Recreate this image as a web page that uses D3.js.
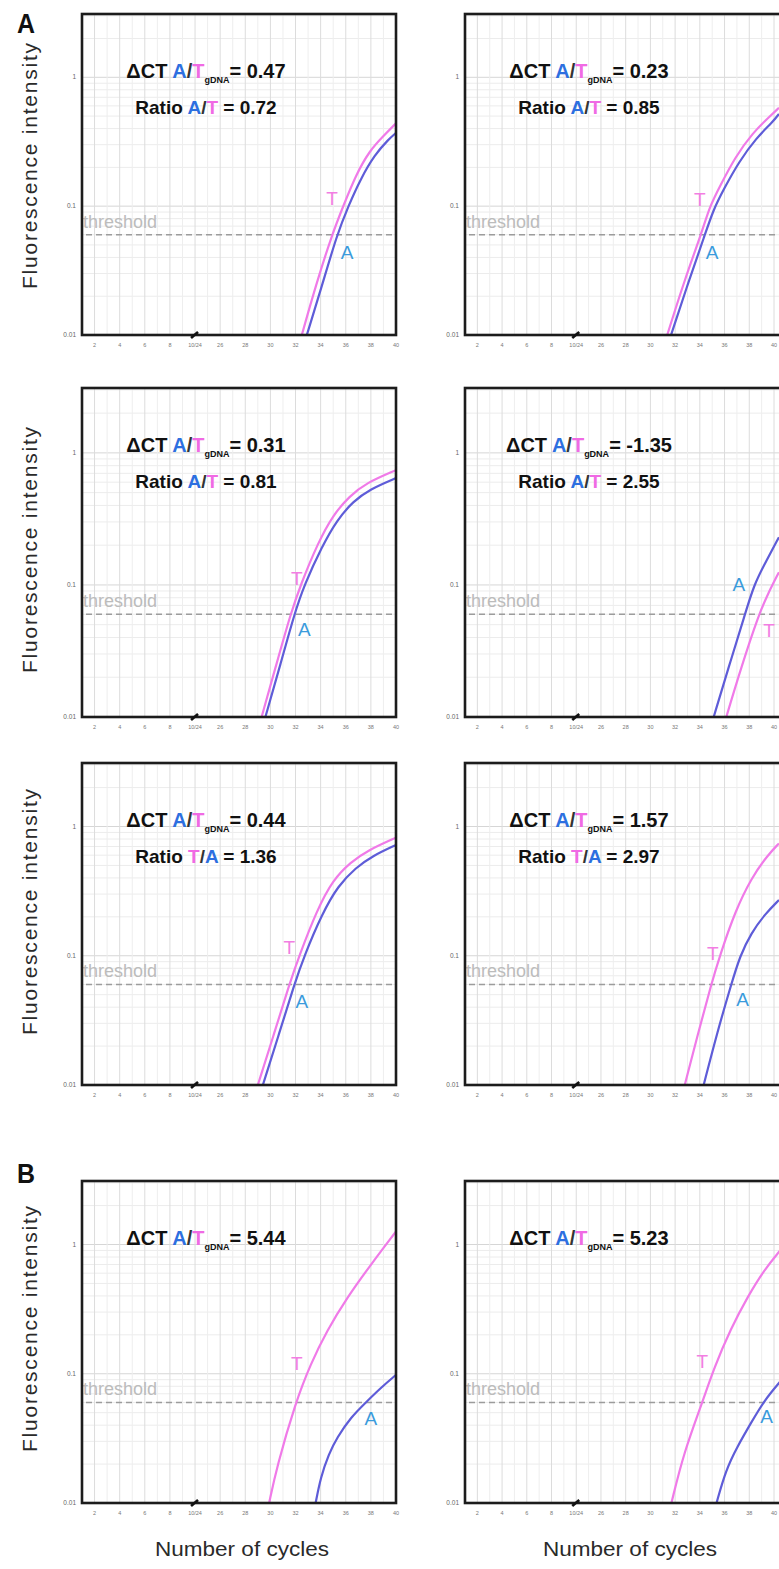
<!DOCTYPE html>
<html><head><meta charset="utf-8">
<script src="https://cdn.jsdelivr.net/npm/d3@7"></script>
<style>body{margin:0;background:#fff}svg{display:block}</style>
</head><body>
<script>
// ---------------- data ----------------
const panelNames = ["A1","A2","A3","A4","A5","A6","B1","B2"];
const deltaCT = ["0.47","0.23","0.31","-1.35","0.44","1.57","5.44","5.23"];
const ratioNumerator = ["A","A","A","A","T","T",null,null];
const ratioValue = ["0.72","0.85","0.81","2.55","1.36","2.97",null,null];
const thresholdValue = 0.06;
const yTickValues = [0.01, 0.1, 1];
const yTickLabels = ["0.01", "0.1", "1"];
const xTickCycles = [2,4,6,8,24,26,28,30,32,34,36,38,40];
const xTickLabels = ["2","4","6","8","10/24","26","28","30","32","34","36","38","40"];

// fluorescence curves: [cycle, intensity]
const tCurves = [
  [[32.5,0.01],[33.6,0.024],[34.9,0.06],[35.8,0.10],[36.8,0.174],[37.9,0.27],[39.0,0.35],[40,0.44]],
  [[31.36,0.01],[32.78,0.027],[34.1,0.06],[34.8,0.1],[35.63,0.143],[36.85,0.24],[38.27,0.37],[39.59,0.49],[40.4,0.58]],
  [[29.3,0.01],[30.5,0.0255],[31.6,0.06],[32.4,0.1],[33.8,0.21],[35.0,0.34],[36.3,0.47],[37.6,0.59],[40,0.74]],
  [[36.14,0.01],[37.36,0.024],[38.78,0.06],[39.49,0.085],[40.4,0.125]],
  [[29.0,0.01],[30.3,0.025],[31.5,0.06],[32.3,0.1],[33.7,0.225],[35.0,0.39],[36.4,0.53],[37.7,0.65],[40,0.82]],
  [[32.78,0.01],[33.9,0.026],[34.92,0.06],[35.62,0.1],[36.85,0.22],[38.17,0.40],[39.49,0.6],[40.4,0.74]],
  [[29.9,0.01],[30.5,0.0189],[32.0,0.06],[33.2,0.119],[34.5,0.215],[36.1,0.388],[38.0,0.70],[40,1.26]],
  [[31.7,0.01],[32.7,0.0245],[34.2,0.06],[35.15,0.111],[36.5,0.223],[37.9,0.40],[39.2,0.635],[40.5,0.90]]
];
const aCurves = [
  [[32.9,0.01],[34.1,0.024],[35.3,0.06],[36.2,0.10],[37.2,0.164],[38.3,0.25],[39.4,0.33],[40,0.37]],
  [[31.67,0.01],[33.09,0.026],[34.41,0.06],[35.12,0.095],[35.93,0.135],[37.15,0.22],[38.58,0.34],[39.9,0.45],[40.4,0.52]],
  [[29.6,0.01],[30.8,0.025],[31.9,0.06],[32.7,0.1],[34.1,0.195],[35.3,0.31],[36.6,0.43],[37.9,0.53],[40,0.645]],
  [[35.12,0.01],[36.34,0.024],[37.66,0.06],[38.37,0.1],[39.39,0.153],[40.4,0.23]],
  [[29.4,0.01],[30.7,0.025],[31.9,0.06],[32.7,0.1],[34.1,0.21],[35.4,0.35],[36.8,0.48],[38.1,0.59],[40,0.72]],
  [[34.31,0.01],[35.43,0.026],[36.54,0.06],[37.25,0.1],[38.16,0.15],[39.27,0.21],[40.4,0.27]],
  [[33.6,0.01],[34.0,0.0158],[34.65,0.024],[35.3,0.032],[36.4,0.046],[37.6,0.06],[38.8,0.078],[40,0.098]],
  [[35.35,0.01],[36.1,0.018],[37.05,0.0275],[38.1,0.041],[39.2,0.062],[40.5,0.087]]
];
// curve label anchors: [cycle, intensity]
const tLabelAt = [[34.9,0.115],[34.0,0.113],[32.1,0.112],[39.6,0.045],[31.5,0.116],[35.05,0.105],[32.1,0.119],[34.2,0.125]];
const aLabelAt = [[36.1,0.044],[35.0,0.044],[32.7,0.046],[37.15,0.10],[32.5,0.044],[37.45,0.046],[38.0,0.045],[39.4,0.047]];

// ---------------- layout ----------------
const W = 779, H = 1569;
const colX = [[82,396],[465,774]];
const boxRightEdge = [396, 786];
const rowY = [[14,335],[388,717],[763,1085],[1181,1503]];
const yLabelCenters = [166,550,912,1329];
const blueTxt = "#2d6fe0", pinkTxt = "#f06ae4";
const curveBlue = "#5e5cd8", curvePink = "#f07ae8";
const FONT = "'Liberation Sans', Arial, sans-serif";

const unit = c => c <= 10 ? c : c - 14;   // broken x axis (10 | 24)

const svg = d3.select("body").append("svg").attr("width", W).attr("height", H);

panelNames.forEach((name, i) => {
  const col = i % 2, row = Math.floor(i / 2);
  const [x0, x1] = colX[col];
  const [y0, y1] = rowY[row];
  const boxRight = boxRightEdge[col];
  const x = d3.scaleLinear().domain([1, 26]).range([x0, x1]);
  const y = d3.scaleLog().domain([0.01, 3.1]).range([y1, y0]);
  const g = svg.append("g");
  const clipId = "clip" + i;
  g.append("clipPath").attr("id", clipId).append("rect")
    .attr("x", x0).attr("y", y0).attr("width", boxRight - x0).attr("height", y1 - y0);

  // grid
  const grid = g.append("g").attr("clip-path", `url(#${clipId})`);
  const hVals = [];
  [0.01, 0.1, 1].forEach(d => { for (let k = 1; k <= 9; k++) { const v = k * d; if (v <= 3.1) hVals.push([v, k === 1]); } });
  grid.selectAll("line.h").data(hVals).join("line")
    .attr("x1", x0).attr("x2", boxRight).attr("y1", d => y(d[0])).attr("y2", d => y(d[0]))
    .attr("stroke", d => d[1] ? "#d6d6d6" : "#ececec").attr("stroke-width", 1);
  const vUnits = d3.range(1, 28);
  grid.selectAll("line.v").data(vUnits).join("line")
    .attr("x1", d => x(d)).attr("x2", d => x(d)).attr("y1", y0).attr("y2", y1)
    .attr("stroke", d => d % 2 === 0 ? "#dcdcdc" : "#eeeeee").attr("stroke-width", 1);

  // threshold
  g.append("line").attr("x1", x0 + 4).attr("x2", boxRight - 2)
    .attr("y1", y(thresholdValue)).attr("y2", y(thresholdValue))
    .attr("stroke", "#9c9c9c").attr("stroke-width", 1.6).attr("stroke-dasharray", "6,4");
  g.append("text").attr("x", x0 + 1).attr("y", y(thresholdValue) - 7)
    .attr("font-family", FONT).attr("font-size", 18).attr("fill", "#bcbcbc").text("threshold");

  // curves
  const line = d3.line().x(d => x(unit(d[0]))).y(d => y(d[1])).curve(d3.curveBasis);
  const cg = g.append("g").attr("clip-path", `url(#${clipId})`);
  cg.append("path").attr("d", line(tCurves[i])).attr("fill", "none")
    .attr("stroke", curvePink).attr("stroke-width", 2.2);
  cg.append("path").attr("d", line(aCurves[i])).attr("fill", "none")
    .attr("stroke", curveBlue).attr("stroke-width", 2.2);

  // curve labels
  g.append("text").attr("x", x(unit(tLabelAt[i][0]))).attr("y", y(tLabelAt[i][1]))
    .attr("text-anchor", "middle").attr("dominant-baseline", "central")
    .attr("font-family", FONT).attr("font-size", 19).attr("fill", "#f27ee2").text("T");
  g.append("text").attr("x", x(unit(aLabelAt[i][0]))).attr("y", y(aLabelAt[i][1]))
    .attr("text-anchor", "middle").attr("dominant-baseline", "central")
    .attr("font-family", FONT).attr("font-size", 19).attr("fill", "#3a9bdc").text("A");

  // box
  g.append("rect").attr("x", x0).attr("y", y0).attr("width", boxRight - x0).attr("height", y1 - y0)
    .attr("fill", "none").attr("stroke", "#1c1c1c").attr("stroke-width", 2.6);

  // y ticks
  g.selectAll("text.yt").data(yTickValues).join("text")
    .attr("x", x0 - 6).attr("y", d => y(d) + 2).attr("text-anchor", "end")
    .attr("font-family", FONT).attr("font-size", 6.5).attr("fill", "#666")
    .text((d, k) => yTickLabels[k]);
  // x ticks
  g.selectAll("text.xt").data(xTickCycles).join("text")
    .attr("x", d => x(unit(d))).attr("y", y1 + 12).attr("text-anchor", "middle")
    .attr("font-family", FONT).attr("font-size", 5.5).attr("fill", "#777")
    .text((d, k) => xTickLabels[k]);
  // axis break mark
  const bx = x(10);
  g.append("path").attr("d", `M${bx - 4},${y1 + 3}L${bx + 3},${y1 - 3}`)
    .attr("stroke", "#111").attr("stroke-width", 2.6);

  // annotation
  const cx = x0 + 124;
  const t1 = g.append("text").attr("x", cx).attr("y", y0 + 64).attr("text-anchor", "middle")
    .attr("font-family", FONT).attr("font-weight", "bold").attr("font-size", 20).attr("fill", "#111");
  t1.append("tspan").text("ΔCT ");
  t1.append("tspan").attr("fill", blueTxt).text("A");
  t1.append("tspan").attr("fill", "#333").text("/");
  t1.append("tspan").attr("fill", pinkTxt).text("T");
  t1.append("tspan").attr("font-size", 9).attr("dy", 5).text("gDNA");
  t1.append("tspan").attr("dy", -5).text("= " + deltaCT[i]);
  if (ratioNumerator[i]) {
    const num = ratioNumerator[i], den = num === "A" ? "T" : "A";
    const t2 = g.append("text").attr("x", cx).attr("y", y0 + 100).attr("text-anchor", "middle")
      .attr("font-family", FONT).attr("font-weight", "bold").attr("font-size", 19).attr("fill", "#111");
    t2.append("tspan").text("Ratio ");
    t2.append("tspan").attr("fill", num === "A" ? blueTxt : pinkTxt).text(num);
    t2.append("tspan").attr("fill", "#333").text("/");
    t2.append("tspan").attr("fill", den === "A" ? blueTxt : pinkTxt).text(den);
    t2.append("tspan").text(" = " + ratioValue[i]);
  }
});

// y-axis titles
yLabelCenters.forEach(cy => {
  svg.append("text").attr("transform", `translate(37,${cy}) rotate(-90)`)
    .attr("text-anchor", "middle").attr("font-family", FONT).attr("font-size", 21)
    .attr("fill", "#2a2a2a").attr("textLength", 246).attr("lengthAdjust", "spacing")
    .text("Fluorescence intensity");
});
// x-axis titles
[242, 630].forEach(cx => {
  svg.append("text").attr("x", cx).attr("y", 1556).attr("text-anchor", "middle")
    .attr("font-family", FONT).attr("font-size", 20).attr("fill", "#2a2a2a")
    .attr("textLength", 174).attr("lengthAdjust", "spacingAndGlyphs")
    .text("Number of cycles");
});
// panel letters
[["A", 33], ["B", 1183]].forEach(([t, by]) => {
  svg.append("text").attr("x", 17).attr("y", by).attr("font-family", FONT)
    .attr("font-weight", "bold").attr("font-size", 28).attr("fill", "#111")
    .attr("textLength", 18).attr("lengthAdjust", "spacingAndGlyphs").text(t);
});
</script>
</body></html>
